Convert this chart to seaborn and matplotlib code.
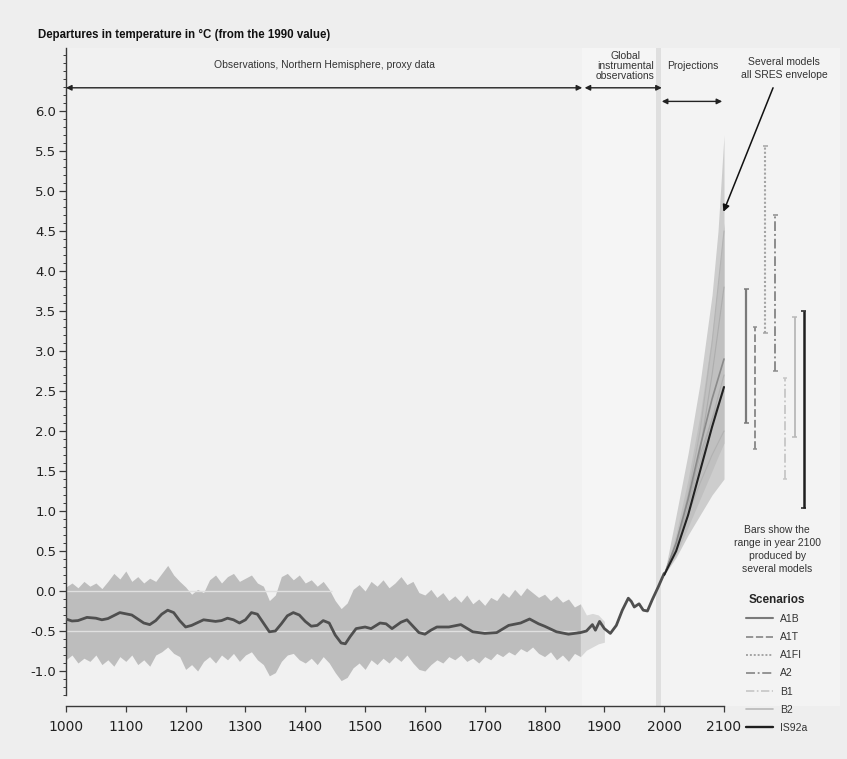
import matplotlib
matplotlib.use("Agg")
import matplotlib.pyplot as plt
import seaborn as sns
import pandas as pd
import numpy as np
from matplotlib.lines import Line2D

# ---------------- data ----------------
obs_years = [1000, 1010, 1020, 1035, 1050, 1060, 1070, 1090, 1110, 1130, 1140, 1150, 1160, 1170,
             1180, 1190, 1200, 1210, 1230, 1250, 1260, 1270, 1280, 1290, 1300, 1310, 1320, 1330,
             1340, 1350, 1360, 1370, 1380, 1390, 1400, 1410, 1420, 1430, 1440, 1450, 1460, 1467,
             1475, 1485, 1500, 1510, 1525, 1535, 1545, 1560, 1570, 1580, 1590, 1600, 1610, 1620,
             1640, 1660, 1680, 1700, 1720, 1740, 1760, 1775, 1790, 1800, 1820, 1840, 1860, 1870,
             1880, 1885, 1892, 1900, 1910, 1920, 1930, 1940, 1945, 1950, 1958, 1965, 1972, 1980,
             1990, 2000]
obs_values = [-0.35, -0.375, -0.37, -0.33, -0.34, -0.36, -0.345, -0.27, -0.30, -0.40, -0.42, -0.37,
              -0.29, -0.24, -0.27, -0.37, -0.45, -0.43, -0.36, -0.38, -0.37, -0.34, -0.36, -0.40,
              -0.36, -0.27, -0.29, -0.40, -0.51, -0.50, -0.41, -0.31, -0.27, -0.30, -0.38, -0.44,
              -0.43, -0.37, -0.40, -0.55, -0.65, -0.66, -0.57, -0.47, -0.45, -0.47, -0.40, -0.41,
              -0.47, -0.39, -0.36, -0.44, -0.52, -0.54, -0.49, -0.45, -0.45, -0.42, -0.51, -0.53,
              -0.52, -0.43, -0.40, -0.35, -0.41, -0.44, -0.51, -0.54, -0.52, -0.50, -0.42, -0.49,
              -0.38, -0.47, -0.53, -0.43, -0.24, -0.09, -0.13, -0.20, -0.16, -0.24, -0.25, -0.11,
              0.05, 0.22]

band_years = list(range(1000, 1910, 10))
band_upper = [0.05, 0.10, 0.04, 0.12, 0.06, 0.10, 0.03, 0.12, 0.22, 0.15, 0.25, 0.12, 0.18, 0.10,
              0.16, 0.12, 0.22, 0.32, 0.20, 0.12, 0.05, -0.04, 0.02, -0.02, 0.14, 0.20, 0.10, 0.18,
              0.22, 0.12, 0.16, 0.20, 0.10, 0.06, -0.12, -0.05, 0.18, 0.22, 0.14, 0.20, 0.10, 0.14,
              0.06, 0.12, 0.02, -0.12, -0.22, -0.15, 0.02, 0.08, 0.00, 0.12, 0.06, 0.14, 0.04, 0.10,
              0.18, 0.08, 0.12, -0.02, -0.05, 0.02, -0.08, -0.02, -0.12, -0.06, -0.14, -0.05, -0.16,
              -0.10, -0.18, -0.08, -0.12, -0.02, -0.08, 0.02, -0.06, 0.04, -0.02, -0.08, -0.04,
              -0.12, -0.06, -0.14, -0.10, -0.20, -0.16, -0.30, -0.28, -0.30, -0.38]
band_lower = [-0.86, -0.80, -0.90, -0.84, -0.88, -0.80, -0.92, -0.86, -0.94, -0.82, -0.88, -0.80,
              -0.92, -0.86, -0.94, -0.80, -0.76, -0.70, -0.78, -0.82, -0.98, -0.92, -1.00, -0.88,
              -0.82, -0.90, -0.80, -0.86, -0.78, -0.88, -0.80, -0.76, -0.86, -0.92, -1.06, -1.02,
              -0.88, -0.80, -0.78, -0.86, -0.90, -0.84, -0.92, -0.82, -0.90, -1.02, -1.12, -1.08,
              -0.96, -0.90, -0.98, -0.86, -0.92, -0.84, -0.90, -0.82, -0.88, -0.80, -0.90, -0.98,
              -1.00, -0.92, -0.86, -0.90, -0.82, -0.86, -0.80, -0.88, -0.84, -0.90, -0.82, -0.86,
              -0.78, -0.82, -0.76, -0.80, -0.72, -0.76, -0.70, -0.78, -0.82, -0.76, -0.86, -0.80,
              -0.88, -0.78, -0.82, -0.74, -0.70, -0.66, -0.64]

proj_years = [2000, 2020, 2040, 2060, 2080, 2100]
scenarios = ["A1B", "A1T", "A1FI", "A2", "B1", "B2", "IS92a"]
proj_A1B = [0.2, 0.60, 1.15, 1.80, 2.40, 2.90]
proj_A1T = [0.2, 0.60, 1.12, 1.70, 2.15, 2.50]
proj_A1FI = [0.2, 0.60, 1.20, 2.00, 3.10, 4.50]
proj_A2 = [0.2, 0.55, 1.05, 1.75, 2.70, 3.80]
proj_B1 = [0.2, 0.50, 0.95, 1.35, 1.70, 2.00]
proj_B2 = [0.2, 0.55, 1.05, 1.60, 2.15, 2.70]
proj_IS92a = [0.2, 0.50, 0.95, 1.50, 2.05, 2.55]

env_years = [2000, 2020, 2040, 2060, 2080, 2090, 2100]
env_outer_upper = [0.2, 0.95, 1.72, 2.60, 3.70, 4.50, 5.70]
env_outer_lower = [0.2, 0.42, 0.70, 0.95, 1.20, 1.30, 1.40]
env_inner_upper = [0.2, 0.72, 1.40, 2.20, 3.20, 3.85, 4.60]
env_inner_lower = [0.2, 0.45, 0.80, 1.15, 1.50, 1.68, 1.85]

bar_x = [2137, 2152, 2169, 2186, 2202, 2218, 2233]
bar_low = [2.10, 1.78, 3.22, 2.75, 1.40, 1.93, 1.04]
bar_high = [3.78, 3.30, 5.56, 4.70, 2.66, 3.42, 3.50]

y_ticks = [-1.0, -0.5, 0.0, 0.5, 1.0, 1.5, 2.0, 2.5, 3.0, 3.5, 4.0, 4.5, 5.0, 5.5, 6.0]
x_ticks = [1000, 1100, 1200, 1300, 1400, 1500, 1600, 1700, 1800, 1900, 2000, 2100]

# ---------------- styles ----------------
sc_color = {"A1B": "#7a7a7a", "A1T": "#8e8e8e", "A1FI": "#a4a4a4", "A2": "#8c8c8c",
            "B1": "#c6c6c6", "B2": "#b8b8b8", "IS92a": "#1e1e1e"}
proj_color = {"A1B": "#8a8a8a", "A1T": "#acacac", "A1FI": "#b4b4b4", "A2": "#adadad",
              "B1": "#b2b2b2", "B2": "#b0b0b0", "IS92a": "#222222"}
sc_ls = {"A1B": "-", "A1T": (0, (4, 1.5)), "A1FI": (0, (1, 1)), "A2": (0, (5, 1.5, 1, 1.5)),
         "B1": (0, (5, 1.5, 1, 1.5)), "B2": "-", "IS92a": "-"}
sc_lw = {"A1B": 1.3, "A1T": 1.1, "A1FI": 1.2, "A2": 1.1, "B1": 1.0, "B2": 1.0, "IS92a": 1.5}
proj_map = {"A1B": proj_A1B, "A1T": proj_A1T, "A1FI": proj_A1FI, "A2": proj_A2,
            "B1": proj_B1, "B2": proj_B2, "IS92a": proj_IS92a}

sns.set_theme(style="white")
plt.rcParams["font.family"] = ["Liberation Sans", "DejaVu Sans"]

W, H = 847, 759
fig = plt.figure(figsize=(W / 100, H / 100), dpi=100, facecolor="#eeeeee")
ax = fig.add_axes([66 / W, 1 - 706 / H, 774 / W, (706 - 48) / H])
ax.set_facecolor("#f1f1f1")

x0, x1 = 1000, 1000 + 774 / (658 / 1100)
y0, y1 = (591 - 706) / 80, (591 - 48) / 80
ax.set_xlim(x0, x1)
ax.set_ylim(y0, y1)

# background regions
ax.axvspan(1862, 1987, color="#f5f5f5", zorder=0, lw=0)
ax.axvspan(1987, 1995, color="#dfdfdf", zorder=0.5, lw=0)
ax.axvspan(1995, x1, color="#f3f3f3", zorder=0, lw=0)

# proxy uncertainty band
bdf = pd.DataFrame({"year": band_years, "upper": band_upper, "lower": band_lower})
main = bdf[bdf.year <= 1860]
tail = bdf[bdf.year >= 1860]
ax.fill_between(main.year, main.lower, main.upper, color="#bdbdbd", lw=0, zorder=1)
ax.fill_between(tail.year, tail.lower, tail.upper, color="#d8d8d8", lw=0, zorder=1)
ax.hlines(0.0, 1000, 1445, color="#e0e0e0", lw=1.0, zorder=1.5)
ax.hlines(-0.5, 1000, 1855, color="#e0e0e0", lw=1.0, zorder=1.5)

# projection envelopes
ax.fill_between(env_years, env_outer_lower, env_outer_upper, color="#cdcdcd", lw=0, zorder=1)
ax.fill_between(env_years, env_inner_lower, env_inner_upper, color="#c0c0c0", lw=0, zorder=1.2)

# observed curve
odf = pd.DataFrame({"year": obs_years, "temp": obs_values})
sns.lineplot(data=odf, x="year", y="temp", ax=ax, color="#4f4f4f", lw=2.0, zorder=3)

# projection lines
rows = []
for s in scenarios:
    for yr, v in zip(proj_years, proj_map[s]):
        rows.append({"year": yr, "temp": v, "scenario": s})
pdf = pd.DataFrame(rows)
for s in ["B1", "B2", "A1T", "A2", "A1FI", "A1B", "IS92a"]:
    sub = pdf[pdf.scenario == s]
    sns.lineplot(data=sub, x="year", y="temp", ax=ax, color=proj_color[s],
                 lw=1.5 if s == "IS92a" else (1.2 if s == "A1B" else 0.8),
                 linestyle="-", zorder=3)

# bars for range in 2100
for s, bx, lo, hi in zip(scenarios, bar_x, bar_low, bar_high):
    ax.vlines(bx, lo, hi, colors=sc_color[s], linestyles=[sc_ls[s]],
              lw=sc_lw[s] + 0.3, zorder=3)
    ax.hlines([lo, hi], bx - 4, bx + 4, colors=sc_color[s], lw=1.1, zorder=3)

# axes styling
for side in ["top", "right"]:
    ax.spines[side].set_visible(False)
ax.spines["left"].set_bounds(-1.3, y1)
ax.spines["bottom"].set_bounds(1000, 2100)
ax.spines["bottom"].set_position(("data", y0))
for side in ["left", "bottom"]:
    ax.spines[side].set_color("#3a3a3a")
    ax.spines[side].set_linewidth(1.0)
ax.set_xticks(x_ticks)
ax.set_xticklabels([str(t) for t in x_ticks], fontsize=10, family="DejaVu Sans", color="#222222")
ax.set_yticks(y_ticks)
ax.set_yticklabels([f"{t:.1f}" for t in y_ticks], fontsize=9.5, family="DejaVu Sans", color="#222222")
ax.set_yticks(np.round(np.arange(-1.3, 6.75, 0.1), 2), minor=True)
ax.tick_params(axis="y", which="major", direction="out", length=5, width=0.9, color="#3a3a3a", left=True, pad=2)
ax.tick_params(axis="y", which="minor", direction="out", length=2.5, width=0.7, color="#3a3a3a", left=True)
ax.tick_params(axis="x", which="major", direction="out", length=4, width=0.9, color="#3a3a3a", bottom=True, pad=6)
ax.set_xlabel("")
ax.set_ylabel("")
ax.grid(False)

# annotations
tfs = 7.5
arrow_kw = dict(arrowstyle="<|-|>", color="#222222", lw=1.0, mutation_scale=8, shrinkA=0, shrinkB=0)
ax.annotate("", xy=(1000, 6.29), xytext=(1863, 6.29), arrowprops=arrow_kw)
ax.annotate("", xy=(1867, 6.29), xytext=(1996, 6.29), arrowprops=arrow_kw)
ax.annotate("", xy=(1996, 6.12), xytext=(2097, 6.12), arrowprops=arrow_kw)
ax.text(1432, 6.58, "Observations, Northern Hemisphere, proxy data", ha="center", va="center",
        fontsize=tfs, color="#333333")
ax.text(1935, 6.56, "Global\ninstrumental\nobservations", ha="center", va="center",
        fontsize=tfs, color="#333333", linespacing=1.0)
ax.text(2048, 6.56, "Projections", ha="center", va="center", fontsize=tfs, color="#333333")
ax.text(2201, 6.53, "Several models\nall SRES envelope", ha="center", va="center",
        fontsize=tfs, color="#333333", linespacing=1.35)
ax.annotate("", xy=(2099, 4.74), xytext=(2182, 6.29),
            arrowprops=dict(arrowstyle="-|>", color="#111111", lw=1.1, mutation_scale=10,
                            shrinkA=0, shrinkB=0))
ax.text(2189, 0.52, "Bars show the\nrange in year 2100\nproduced by\nseveral models",
        ha="center", va="center", fontsize=tfs, color="#333333", linespacing=1.35)

fig.text(38 / W, 1 - 35 / H, "Departures in temperature in °C (from the 1990 value)",
         fontsize=8.3, fontweight="bold", ha="left", va="center", color="#111111")

# legend
handles = [Line2D([0], [0], color=sc_color[s], ls=sc_ls[s], lw=sc_lw[s] + 0.2) for s in scenarios]
leg = fig.legend(handles, scenarios, loc="upper left", bbox_to_anchor=(746 / W, 1 - 594 / H),
                 frameon=False, fontsize=7.5, title="Scenarios", handlelength=2.6,
                 handletextpad=0.7, labelspacing=0.78, borderaxespad=0, borderpad=0)
leg.get_title().set_fontweight("bold")
leg.get_title().set_fontsize(8.5)
for t in leg.get_texts():
    t.set_color("#333333")

fig.savefig("out.png", dpi=100, facecolor=fig.get_facecolor())
